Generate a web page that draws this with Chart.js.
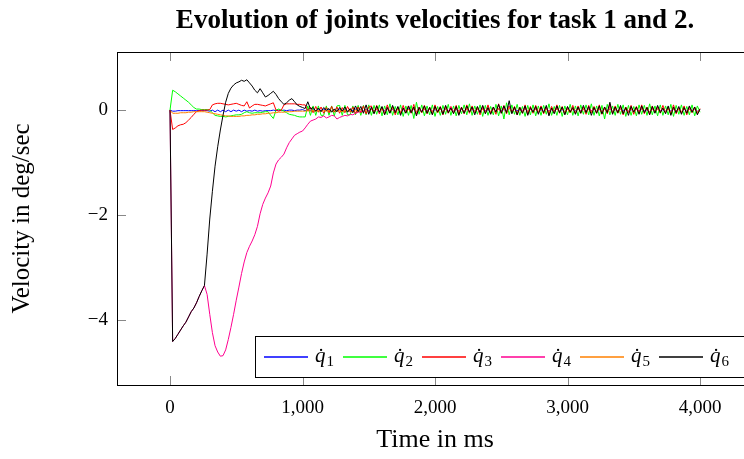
<!DOCTYPE html>
<html>
<head>
<meta charset="utf-8">
<script src="https://cdn.jsdelivr.net/npm/chart.js@4.4.0/dist/chart.umd.min.js"></script>
<style>
  html, body { margin: 0; padding: 0; background: #fff; overflow: hidden; }
  #wrap { width: 760px; height: 459px; }
</style>
</head>
<body>
<div id="wrap"><canvas id="velChart" width="760" height="459"></canvas></div>
<script>
(function () {

    // sample times in ms
    var times = [
        0, 20, 40, 60, 80, 100, 120, 140, 160, 180,
        200, 220, 240, 260, 280, 300, 320, 340, 360, 380,
        400, 420, 440, 460, 480, 500, 520, 540, 560, 580,
        600, 620, 640, 660, 680, 700, 720, 740, 760, 780,
        800, 820, 840, 860, 880, 900, 920, 940, 960, 980,
        1000, 1020, 1040, 1060, 1080, 1100, 1120, 1140, 1160, 1180,
        1200, 1220, 1240, 1260, 1280, 1300, 1320, 1340, 1360, 1380,
        1400, 1420, 1440, 1460, 1480, 1500, 1520, 1540, 1560, 1580,
        1600, 1620, 1640, 1660, 1680, 1700, 1720, 1740, 1760, 1780,
        1800, 1820, 1840, 1860, 1880, 1900, 1920, 1940, 1960, 1980,
        2000, 2020, 2040, 2060, 2080, 2100, 2120, 2140, 2160, 2180,
        2200, 2220, 2240, 2260, 2280, 2300, 2320, 2340, 2360, 2380,
        2400, 2420, 2440, 2460, 2480, 2500, 2520, 2540, 2560, 2580,
        2600, 2620, 2640, 2660, 2680, 2700, 2720, 2740, 2760, 2780,
        2800, 2820, 2840, 2860, 2880, 2900, 2920, 2940, 2960, 2980,
        3000, 3020, 3040, 3060, 3080, 3100, 3120, 3140, 3160, 3180,
        3200, 3220, 3240, 3260, 3280, 3300, 3320, 3340, 3360, 3380,
        3400, 3420, 3440, 3460, 3480, 3500, 3520, 3540, 3560, 3580,
        3600, 3620, 3640, 3660, 3680, 3700, 3720, 3740, 3760, 3780,
        3800, 3820, 3840, 3860, 3880, 3900, 3920, 3940, 3960, 3980,
        4000
    ];

    var q1 = [
        0, -0.02, -0.02, -0.01, -0.01, -0.01, -0.01, -0.01, -0.01, -0.01,
        -0.01, -0.01, -0.01, -0.01, -0.01, -0.02, 0, -0.03, 0, -0.03,
        0, -0.03, 0, -0.03, 0, -0.02, 0, -0.03, 0, -0.02,
        -0.01, -0.02, 0, -0.02, -0.01, -0.02, -0.01, -0.01, -0.01, 0,
        -0.01, 0, -0.01, 0, -0.01, 0, 0, -0.01, 0, 0,
        0.01, -0.01, 0.01, -0.01, 0.01, -0.02, 0.01, -0.01, 0.02, -0.01,
        0.01, -0.02, 0.01, -0.01, 0.02, -0.01, 0.01, -0.02, 0.01, -0.01,
        0.02, -0.02, 0.01, -0.02, 0.02, -0.01,
        0.02, -0.02, 0.01, -0.03, 0.02, -0.01, 0.03, -0.02, 0.01, -0.02,
        0.02, -0.03, 0.01, -0.02, 0.03, -0.01, 0.02, -0.02, 0.01, -0.03,
        0.02, -0.01, 0.03, -0.02, 0.01, -0.02, 0.02, -0.03, 0.01, -0.02,
        0.03, -0.02, 0.01, -0.01, 0.02, -0.03, 0.02, -0.02, 0.01, -0.02,
        0.02, -0.02, 0.03, -0.01, 0.01, -0.03, 0.02, -0.02, 0.02, -0.01,
        0.01, -0.02, 0.03, -0.02, 0.02, -0.01, 0.01, -0.03, 0.02, -0.02,
        0.02, -0.01, 0.02, -0.03, 0.01, -0.02, 0.03, -0.02, 0.01, -0.01,
        0.02, -0.02, 0.01, -0.03, 0.02, -0.02, 0.02, -0.01, 0.03, -0.02,
        0.01, -0.02, 0.02, -0.01, 0.03, -0.02, 0.01, -0.03, 0.02, -0.02,
        0.02, -0.03, 0.01, -0.02, 0.02, -0.01, 0.03, -0.02, 0.01, -0.02,
        0.03, -0.02, 0.02, -0.01, 0.01, -0.03, 0.02, -0.02, 0.02, -0.01,
        0.01, -0.02, 0.03, -0.02, 0.02, -0.01, 0.01, -0.03, 0.02, -0.02,
        0.02, -0.01, 0.02, -0.02, 0
    ];

    var q2 = [
        0, 0.38, 0.35, 0.31, 0.27, 0.23, 0.19, 0.15, 0.1, 0.05,
        0.02, 0.02, 0.01, 0.01, 0.01, 0, -0.05, -0.1, -0.11, -0.12,
        -0.12, -0.13, -0.12, -0.11, -0.1, -0.09, -0.09, -0.08, -0.05, -0.03,
        -0.05, -0.06, -0.05, -0.05, -0.05, -0.04, -0.03, -0.03, -0.1, -0.16,
        0, 0.02, 0, -0.02, -0.05, -0.08, -0.09, -0.1, -0.12, -0.13,
        -0.13, -0.13, 0.08, -0.1, 0.08, -0.1, 0.08, -0.1, -0.1, 0.08,
        -0.1, 0.08, -0.11, 0.08, 0.09, -0.1, 0.09, -0.09, -0.09, 0.08,
        -0.09, 0.09, -0.1, 0.09, -0.09, 0.1,
        -0.1, 0.09, -0.08, 0.1, -0.11, 0.08, -0.09, 0.12, -0.1, 0.07,
        -0.09, 0.1, -0.12, 0.08, -0.1, 0.09, -0.16, 0.15, -0.08, 0.1,
        -0.11, 0.08, -0.09, 0.1, -0.12, 0.07, -0.1, 0.09, -0.08, 0.11,
        -0.1, 0.08, -0.11, 0.09, -0.07, 0.1, -0.09, 0.12, -0.1, 0.08,
        -0.08, 0.1, -0.12, 0.09, -0.1, 0.07, -0.09, 0.11, -0.11, 0.08,
        -0.17, 0.14, -0.09, 0.1, -0.08, 0.11, -0.1, 0.07, -0.12, 0.09,
        -0.09, 0.1, -0.11, 0.08, -0.1, 0.09, -0.08, 0.12, -0.1, 0.07,
        -0.1, 0.09, -0.12, 0.08, -0.09, 0.11, -0.1, 0.08, -0.11, 0.1,
        -0.08, 0.1, -0.09, 0.12, -0.1, 0.08, -0.11, 0.09, -0.17, 0.11,
        -0.09, 0.08, -0.1, 0.11, -0.08, 0.1, -0.12, 0.09, -0.1, 0.07,
        -0.11, 0.1, -0.08, 0.09, -0.1, 0.12, -0.09, 0.08, -0.11, 0.1,
        -0.1, 0.08, -0.09, 0.11, -0.12, 0.09, -0.08, 0.1, -0.1, 0.07,
        -0.09, 0.1, -0.11, 0.08, -0.04
    ];

    var q3 = [
        0, -0.37, -0.34, -0.3, -0.28, -0.27, -0.24, -0.19, -0.14, -0.08,
        -0.03, -0.01, 0, 0, 0, 0.01, 0.1, 0.12, 0.13, 0.13,
        0.12, 0.11, 0.1, 0.11, 0.12, 0.13, 0.11, 0.09, 0.08, 0.16,
        0.04, 0.08, 0.11, 0.11, 0.1, 0.09, 0.08, 0.1, 0.12, 0.14,
        0, -0.02, 0, 0.1, 0.12, 0.12, 0.12, 0.12, 0.11, 0.11,
        0.1, 0.1, -0.02, 0.06, -0.05, 0.07, -0.04, 0.06, -0.06, 0.05,
        -0.05, 0.07, -0.04, 0.06, -0.06, 0.05, -0.05, 0.07, -0.04, 0.06,
        -0.07, 0.06, -0.05, 0.08, -0.07, 0.06,
        0.08, -0.06, 0.09, -0.07, 0.05, -0.08, 0.1, -0.05, 0.07, -0.09,
        0.06, -0.07, 0.09, -0.05, 0.08, -0.06, 0.11, -0.08, 0.06, -0.05,
        0.09, -0.07, 0.06, -0.08, 0.1, -0.05, 0.07, -0.09, 0.08, -0.06,
        0.07, -0.05, 0.09, -0.08, 0.06, -0.07, 0.1, -0.06, 0.08, -0.05,
        0.06, -0.09, 0.08, -0.06, 0.1, -0.07, 0.05, -0.08, 0.12, -0.06,
        0.09, -0.07, 0.08, -0.05, 0.07, -0.09, 0.06, -0.06, 0.1, -0.08,
        0.07, -0.06, 0.09, -0.05, 0.08, -0.07, 0.06, -0.09, 0.07, -0.05,
        0.1, -0.06, 0.07, -0.08, 0.06, -0.05, 0.09, -0.07, 0.08, -0.06,
        0.06, -0.08, 0.09, -0.05, 0.07, -0.06, 0.1, -0.08, 0.06, -0.07,
        0.12, -0.07, 0.08, -0.06, 0.07, -0.09, 0.06, -0.05, 0.09, -0.08,
        0.07, -0.06, 0.1, -0.07, 0.06, -0.08, 0.08, -0.05, 0.07, -0.06,
        0.09, -0.05, 0.06, -0.08, 0.1, -0.07, 0.05, -0.06, 0.08, -0.09,
        0.07, -0.05, 0.06, -0.07, 0.03
    ];

    var q4 = [
        0, -4.42, -4.36, -4.28, -4.2, -4.12, -4.05, -3.95, -3.85, -3.78,
        -3.68, -3.56, -3.45, -3.35, -3.52, -3.9, -4.25, -4.5, -4.62, -4.7,
        -4.69, -4.58, -4.38, -4.15, -3.9, -3.63, -3.38, -3.12, -2.9, -2.72,
        -2.6, -2.5, -2.38, -2.22, -1.98, -1.8, -1.68, -1.58, -1.45, -1.2,
        -1.03, -0.95, -0.9, -0.84, -0.72, -0.62, -0.55, -0.48, -0.45, -0.42,
        -0.4, -0.34, -0.27, -0.21, -0.19, -0.17, -0.13, -0.14, -0.11, -0.15,
        -0.13, -0.1, -0.11, -0.17, -0.14, -0.12, -0.1, -0.11, -0.08, -0.09,
        -0.06, -0.04, -0.03, -0.02, 0.01, -0.02,
        0.03, -0.04, 0.02, -0.05, 0.04, -0.03, 0.05, -0.04, 0.03, -0.02,
        0.04, -0.03, 0.05, -0.04, 0.02, -0.05, 0.03, -0.04, 0.05, -0.03,
        0.02, -0.04, 0.04, -0.03, 0.05, -0.02, 0.03, -0.05, 0.04, -0.03,
        0.05, -0.04, 0.03, -0.02, 0.04, -0.05, 0.02, -0.03, 0.05, -0.04,
        0.03, -0.05, 0.04, -0.02, 0.03, -0.04, 0.05, -0.03, 0.02, -0.04,
        0.06, -0.03, 0.08, -0.04, 0.03, -0.05, 0.04, -0.02, 0.05, -0.04,
        0.02, -0.03, 0.04, -0.05, 0.03, -0.04, 0.05, -0.03, 0.02, -0.04,
        0.04, -0.02, 0.03, -0.05, 0.04, -0.03, 0.02, -0.04, 0.05, -0.03,
        0.03, -0.04, 0.05, -0.02, 0.04, -0.03, 0.03, -0.05, 0.04, -0.02,
        0.07, -0.04, 0.03, -0.03, 0.05, -0.04, 0.02, -0.05, 0.03, -0.03,
        0.04, -0.03, 0.05, -0.04, 0.02, -0.05, 0.04, -0.03, 0.05, -0.02,
        0.03, -0.04, 0.04, -0.05, 0.03, -0.02, 0.04, -0.04, 0.03, -0.03,
        0.05, -0.02, 0.03, -0.04, 0.01
    ];

    var q5 = [
        0, -0.06, -0.06, -0.06, -0.05, -0.05, -0.05, -0.04, -0.04, -0.03,
        -0.03, -0.03, -0.03, -0.03, -0.04, -0.05, -0.06, -0.07, -0.08, -0.09,
        -0.1, -0.11, -0.11, -0.12, -0.12, -0.12, -0.12, -0.11, -0.11, -0.1,
        -0.1, -0.09, -0.09, -0.08, -0.08, -0.07, -0.07, -0.06, -0.06, -0.05,
        -0.05, -0.04, -0.04, -0.04, -0.03, -0.03, -0.03, -0.02, -0.02, -0.02,
        -0.02, -0.02, -0.01, -0.02, -0.01, -0.02, -0.01, -0.02, -0.01, -0.02,
        -0.01, -0.02, -0.01, -0.02, -0.01, -0.03, 0, -0.02, -0.01, -0.03,
        0, -0.03, 0.01, -0.03, 0.01, -0.04,
        0.02, -0.04, 0.03, -0.03, 0.02, -0.05, 0.03, -0.03, 0.04, -0.04,
        0.02, -0.03, 0.03, -0.05, 0.02, -0.04, 0.04, -0.03, 0.02, -0.04,
        0.03, -0.04, 0.02, -0.03, 0.04, -0.05, 0.02, -0.03, 0.03, -0.04,
        0.02, -0.05, 0.03, -0.03, 0.02, -0.04, 0.04, -0.04, 0.02, -0.03,
        0.03, -0.04, 0.02, -0.05, 0.03, -0.03, 0.02, -0.04, 0.04, -0.03,
        0.02, -0.04, 0.05, -0.03, 0.02, -0.05, 0.03, -0.04, 0.02, -0.03,
        0.04, -0.04, 0.02, -0.03, 0.03, -0.05, 0.02, -0.04, 0.03, -0.03,
        0.02, -0.03, 0.04, -0.04, 0.02, -0.05, 0.03, -0.03, 0.02, -0.04,
        0.03, -0.05, 0.02, -0.04, 0.04, -0.03, 0.02, -0.04, 0.03, -0.05,
        0.04, -0.03, 0.02, -0.04, 0.03, -0.04, 0.02, -0.05, 0.03, -0.03,
        0.02, -0.04, 0.03, -0.03, 0.04, -0.05, 0.02, -0.03, 0.03, -0.04,
        0.03, -0.03, 0.02, -0.05, 0.03, -0.04, 0.02, -0.03, 0.04, -0.04,
        0.02, -0.03, 0.03, -0.04, 0
    ];

    var q6 = [
        0, -4.42, -4.36, -4.28, -4.2, -4.12, -4.05, -3.95, -3.85, -3.78,
        -3.68, -3.56, -3.45, -3.35, -2.75, -2.08, -1.55, -1.07, -0.7, -0.38,
        -0.1, 0.15, 0.32, 0.42, 0.48, 0.52, 0.54, 0.57, 0.55, 0.58,
        0.52, 0.46, 0.38, 0.33, 0.41, 0.33, 0.25, 0.28, 0.32, 0.36,
        0.3, 0.22, 0.16, 0.11, 0.14, 0.19, 0.22, 0.16, 0.1, 0.07,
        0.05, 0.03, 0.16, 0.02, 0.05, -0.02, 0.04, -0.03, 0.05, 0,
        0.03, -0.04, 0.02, -0.03, 0.05, -0.02, 0.06, -0.04, 0.03, -0.05,
        0.08, -0.03, 0.07, -0.06, 0.1, -0.08,
        0.06, -0.07, 0.08, -0.04, 0.07, -0.09, 0.05, -0.06, 0.09, -0.05,
        0.07, -0.1, 0.04, -0.06, 0.08, -0.05, 0.06, -0.11, 0.05, -0.04,
        0.08, -0.06, 0.05, -0.09, 0.07, -0.04, 0.06, -0.08, 0.09, -0.05,
        0.04, -0.07, 0.07, -0.1, 0.05, -0.06, 0.08, -0.04, 0.06, -0.09,
        0.07, -0.05, 0.09, -0.07, 0.05, -0.08, 0.06, -0.04, 0.11, -0.06,
        0.08, -0.05, 0.18, -0.07, 0.06, -0.09, 0.05, -0.06, 0.08, -0.1,
        0.05, -0.04, 0.07, -0.08, 0.06, -0.05, 0.09, -0.11, 0.04, -0.07,
        0.08, -0.05, 0.06, -0.09, 0.07, -0.04, 0.05, -0.08, 0.06, -0.06,
        0.09, -0.05, 0.07, -0.1, 0.05, -0.06, 0.08, -0.07, 0.06, -0.05,
        0.15, -0.08, 0.06, -0.05, 0.09, -0.07, 0.05, -0.1, 0.07, -0.04,
        0.06, -0.08, 0.08, -0.05, 0.05, -0.09, 0.07, -0.06, 0.09, -0.05,
        0.04, -0.07, 0.08, -0.1, 0.06, -0.05, 0.07, -0.08, 0.05, -0.06,
        0.08, -0.04, 0.06, -0.09, 0.02
    ];

    var seriesValues = [q1, q2, q3, q4, q5, q6];
    var seriesLabels = ["q\u0307\u2081", "q\u0307\u2082", "q\u0307\u2083", "q\u0307\u2084", "q\u0307\u2085", "q\u0307\u2086"];
    var seriesColors = ["#0000ff", "#00ff00", "#ff0000", "#ff0090", "#ff8000", "#000000"];

    var xTicks = [0, 1000, 2000, 3000, 4000];
    var yTicks = [-4, -2, 0];

    var serif = "'Liberation Serif', 'DejaVu Serif', serif";

    // pgfplots style box: frame with inward ticks on all four sides, legend inside
    var framePlugin = {
        id: "frame",
        afterDraw: function (chart) {
            var c = chart.ctx;
            var a = chart.chartArea;
            var xs = chart.scales.x;
            var ys = chart.scales.y;
            var len = 9;
            c.save();
            c.strokeStyle = "#888";
            c.lineWidth = 1;
            c.beginPath();
            xTicks.forEach(function (v) {
                var px = Math.round(xs.getPixelForValue(v)) + 0.5;
                c.moveTo(px, a.bottom); c.lineTo(px, a.bottom - len);
                c.moveTo(px, a.top); c.lineTo(px, a.top + len);
            });
            yTicks.forEach(function (v) {
                var py = Math.round(ys.getPixelForValue(v)) + 0.5;
                c.moveTo(a.left, py); c.lineTo(a.left + len, py);
                c.moveTo(a.right, py); c.lineTo(a.right - len, py);
            });
            c.stroke();
            c.strokeStyle = "#000";
            c.strokeRect(Math.round(a.left) + 0.5, Math.round(a.top) + 0.5,
                Math.round(a.right - a.left), Math.round(a.bottom - a.top));

            c.fillStyle = "#fff";
            c.fillRect(255.5, 336.5, 500, 41);
            c.strokeRect(255.5, 336.5, 500, 41);
            seriesLabels.forEach(function (label, i) {
                var x0 = 264 + 79 * i;
                c.strokeStyle = seriesColors[i];
                c.lineWidth = 1.3;
                c.beginPath();
                c.moveTo(x0, 357);
                c.lineTo(x0 + 44, 357);
                c.stroke();
                c.fillStyle = "#000";
                c.textBaseline = "alphabetic";
                c.font = "italic 21px " + serif;
                var base = label.slice(0, 2);
                c.fillText(base, x0 + 51, 362);
                var w = c.measureText(base).width;
                // subscript index drawn as a small upright digit
                var digit = String.fromCharCode(label.charCodeAt(2) - 0x2080 + 48);
                c.font = "15px " + serif;
                c.fillText(digit, x0 + 52 + w, 366);
            });
            c.restore();
        }
    };

    var datasets = seriesValues.map(function (vals, i) {
        return {
            label: seriesLabels[i],
            data: times.map(function (t, j) { return {x: t, y: vals[j]}; }),
            borderColor: seriesColors[i],
            borderWidth: 1,
            pointRadius: 0,
            tension: 0,
            fill: false,
            order: seriesValues.length - 1 - i
        };
    });

    var ctx = document.getElementById("velChart").getContext("2d");
    new Chart(ctx, {
        type: "line",
        data: {datasets: datasets},
        options: {
            responsive: false,
            animation: false,
            layout: {padding: {top: 0, right: 7, bottom: 0, left: 0}},
            plugins: {
                legend: {display: false},
                tooltip: {enabled: false},
                title: {
                    display: true,
                    fullSize: false,
                    text: "Evolution of joints velocities for task 1 and 2.",
                    color: "#000",
                    font: {family: serif, size: 27, weight: "bold", lineHeight: 1.2},
                    padding: {top: 4.8, bottom: 14.8}
                }
            },
            scales: {
                x: {
                    type: "linear",
                    min: -400,
                    max: 4400,
                    afterFit: function (s) { s.height = 74; },
                    afterBuildTicks: function (axis) {
                        axis.ticks = xTicks.map(function (v) { return {value: v}; });
                    },
                    grid: {display: false, drawTicks: false},
                    border: {display: false},
                    ticks: {
                        color: "#000",
                        padding: 12,
                        maxRotation: 0,
                        autoSkip: false,
                        font: {family: serif, size: 19},
                        callback: function (v) { return v.toLocaleString("en-US"); }
                    },
                    title: {
                        display: true,
                        text: "Time in ms",
                        color: "#000",
                        font: {family: serif, size: 26},
                        padding: {top: 3, bottom: 3}
                    }
                },
                y: {
                    min: -5.25,
                    max: 1.11,
                    afterFit: function (s) { s.width = 117; },
                    afterBuildTicks: function (axis) {
                        axis.ticks = yTicks.map(function (v) { return {value: v}; });
                    },
                    grid: {display: false, drawTicks: false},
                    border: {display: false},
                    ticks: {
                        color: "#000",
                        padding: 9,
                        font: {family: serif, size: 19},
                        callback: function (v) { return String(v).replace("-", "\u2212"); }
                    },
                    title: {
                        display: true,
                        text: "Velocity in deg/sec",
                        color: "#000",
                        font: {family: serif, size: 25},
                        padding: {top: 7, bottom: 7}
                    }
                }
            }
        },
        plugins: [framePlugin]
    });

})();
</script>
</body>
</html>
